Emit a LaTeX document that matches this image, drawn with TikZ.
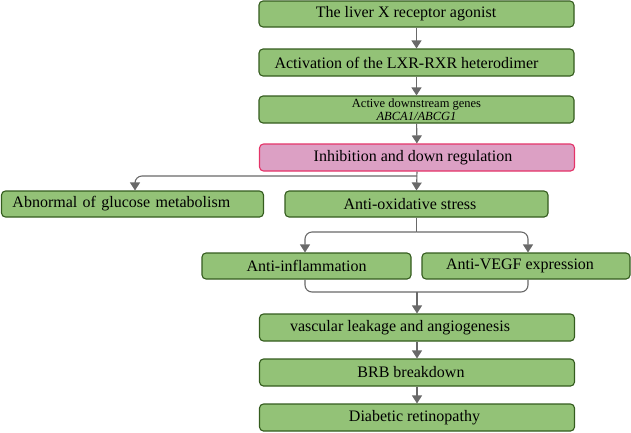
\documentclass[tikz,border=0pt]{standalone}
\usepackage{fontspec}
\setmainfont{Liberation Serif}
\usetikzlibrary{arrows.meta}
\definecolor{boxfill}{RGB}{147,194,119}
\definecolor{boxline}{RGB}{52,92,30}
\definecolor{pinkfill}{RGB}{220,160,196}
\definecolor{pinkline}{RGB}{228,52,104}
\definecolor{conncol}{RGB}{105,105,105}
\newcommand{\shl}[1]{\hspace*{-#1pt}}
\begin{document}
\begin{tikzpicture}[x=1pt,y=-1pt,
  gbox/.style={draw=boxline, fill=boxfill, line width=1.1pt, rounded corners=4pt,
    inner sep=0pt, align=center, font=\fontsize{16}{18}\selectfont},
  pbox/.style={gbox, draw=pinkline, fill=pinkfill},
  conn/.style={draw=conncol, line width=1.1pt},
  arr/.style={conn, -{Triangle[width=10pt,length=8pt]}},
  corner/.style={rounded corners=7pt}]
\useasboundingbox (0,0) rectangle (631,432);
\node[gbox, minimum width=315pt, minimum height=26pt] (b1) at (416.5,14) {\shl{21}The liver X receptor agonist};
\node[gbox, minimum width=315pt, minimum height=27pt] (b2) at (416.5,62.5) {\shl{20}Activation of the LXR-RXR heterodimer};
\node[gbox, minimum width=315pt, minimum height=27pt, font=\fontsize{12.5}{12.5}\selectfont] (b3) at (416.5,109.5) {Active downstream genes\\\textit{ABCA1/ABCG1}};
\node[pbox, minimum width=315pt, minimum height=27pt] (b4) at (417,157.5) {\shl{8}Inhibition and down regulation};
\node[gbox, minimum width=262pt, minimum height=26pt, text width=240pt, align=left] (b5) at (132.5,204) {Abnormal of glucose metabolism};
\node[gbox, minimum width=263pt, minimum height=26pt] (b6) at (416.5,204) {\shl{13}Anti-oxidative stress};
\node[gbox, minimum width=209pt, minimum height=26pt] (b7) at (306.5,266) {Anti-inflammation};
\node[gbox, minimum width=208pt, minimum height=26pt] (b8) at (526,266) {\shl{12}Anti-VEGF expression};
\node[gbox, minimum width=315pt, minimum height=27pt] (b9) at (417,327.5) {\shl{34}vascular leakage and angiogenesis};
\node[gbox, minimum width=315pt, minimum height=27pt] (b10) at (417,372.5) {\shl{12}BRB breakdown};
\node[gbox, minimum width=315pt, minimum height=27pt] (b11) at (417,417.5) {\shl{5}Diabetic retinopathy};
\draw[arr] (b1) -- (b2);
\draw[arr] (b2) -- (b3);
\draw[arr] (b3) -- (b4);
\coordinate (s1) at (417,176);
\draw[arr] (b4.south) -- (b6.north);
\draw[arr, corner] (s1) -| ([xshift=2.5pt]b5.north);
\coordinate (s2) at (416.5,232);
\draw[conn] (b6.south) -- (s2);
\draw[arr, corner] (s2) -| ([xshift=-1.5pt]b7.north);
\draw[arr, corner] (s2) -| ([xshift=2pt]b8.north);
\coordinate (m) at (417,292);
\draw[conn, corner] ([xshift=-1.5pt]b7.south) -- ([xshift=-1.5pt]b7.south |- m) -- ([xshift=2pt]b8.south |- m) -- ([xshift=2pt]b8.south);
\draw[arr] (m) -- (b9.north);
\draw[arr] (b9) -- (b10);
\draw[arr] (b10) -- (b11);
\end{tikzpicture}
\end{document}
